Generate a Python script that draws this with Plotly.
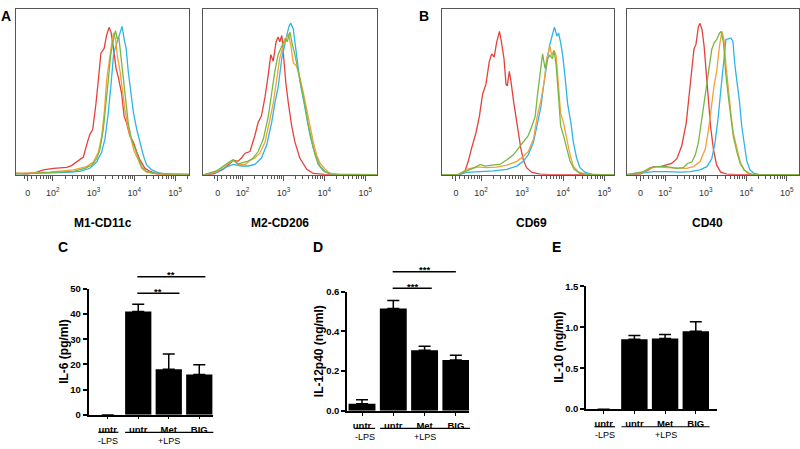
import math
import plotly.graph_objects as go

W, H = 800, 449
FONT = "Liberation Sans, Arial, sans-serif"

# ---------------- flow histograms ----------------
# x = display position in decades (10^k at k), y = % of panel height (normalised to mode)
a1_red_x = [1.10, 1.36, 1.61, 1.77, 2.02, 2.34, 2.46, 2.63, 2.75, 2.85, 2.91, 2.98, 3.06, 3.14, 3.18, 3.26, 3.32, 3.38, 3.43, 3.49,
            3.55, 3.61, 3.69, 3.75, 3.81, 3.89, 3.98, 4.06, 4.14, 4.26, 4.39, 4.55, 4.96, 5.34]
a1_red_y = [1.0, 0.4, 1.6, 2.9, 3.9, 4.5, 5.5, 8.8, 10.7, 19.5, 24.4, 27.3, 43.0, 62.5, 73.2, 76.2, 84.0, 88.9, 85.9, 76.2,
            64.5, 58.6, 48.8, 35.2, 31.3, 23.4, 19.5, 13.7, 8.8, 3.9, 2.0, 0.6, 0, 0]
a1_blue_x = [1.10, 1.93, 2.34, 2.67, 2.91, 3.08, 3.20, 3.28, 3.36, 3.43, 3.49, 3.53, 3.58, 3.63, 3.67, 3.70, 3.75, 3.80, 3.85, 3.92,
             3.98, 4.06, 4.14, 4.22, 4.30, 4.43, 4.55, 4.71, 4.96, 5.34]
a1_blue_y = [0.6, 1.0, 1.4, 2.0, 3.9, 7.8, 13.7, 21.5, 37.1, 54.7, 72.3, 76.2, 80.1, 84.0, 88.3, 89.5, 82.0, 76.2, 62.5, 46.9,
             37.1, 27.3, 19.5, 11.7, 5.9, 2.9, 1.6, 0.6, 0, 0]
a1_orange_x = [1.10, 1.93, 2.51, 2.83, 3.00, 3.12, 3.20, 3.27, 3.32, 3.39, 3.45, 3.49, 3.54, 3.58, 3.65, 3.71, 3.77, 3.84, 3.91, 3.99,
               4.10, 4.18, 4.30, 4.55, 4.96, 5.34]
a1_orange_y = [0.8, 1.6, 2.9, 4.9, 7.8, 13.7, 23.4, 39.1, 56.6, 70.3, 80.1, 85.5, 82.0, 72.3, 62.5, 50.8, 39.1, 29.3, 21.5, 14.6,
               8.8, 3.9, 1.6, 0.4, 0, 0]
a1_green_x = [1.10, 1.93, 2.51, 2.79, 2.96, 3.08, 3.16, 3.24, 3.31, 3.36, 3.42, 3.47, 3.51, 3.54, 3.58, 3.62, 3.67, 3.73, 3.80, 3.85,
              3.93, 4.02, 4.10, 4.18, 4.30, 4.47, 4.79, 5.34]
a1_green_y = [0.4, 1.2, 2.0, 3.9, 5.9, 9.8, 15.6, 27.3, 43.0, 56.6, 72.3, 80.1, 84.0, 86.9, 82.0, 83.0, 72.3, 58.6, 43.0, 31.3,
              21.5, 15.6, 9.8, 4.9, 2.0, 1.0, 0.6, 0.4]

a2_red_x = [1.04, 1.28, 1.53, 1.69, 1.77, 1.89, 1.97, 2.06, 2.18, 2.30, 2.38, 2.46, 2.55, 2.63, 2.69, 2.75, 2.82, 2.87, 2.91, 2.96,
            3.00, 3.06, 3.12, 3.20, 3.28, 3.40, 3.57, 3.73, 4.06, 5.28]
a2_red_y = [0, 0.4, 3.3, 7.2, 8.6, 8.2, 10.1, 13.0, 14.0, 23.7, 31.5, 35.4, 47.1, 60.7, 72.4, 68.5, 80.2, 83.1, 80.2, 84.0,
            70.4, 54.9, 43.2, 29.6, 19.8, 10.1, 3.3, 0.8, 0, 0]
a2_blue_x = [1.04, 1.36, 1.61, 1.77, 1.97, 2.14, 2.30, 2.46, 2.59, 2.71, 2.79, 2.87, 2.96, 3.04, 3.09, 3.14, 3.18, 3.24, 3.28, 3.34,
             3.40, 3.49, 3.57, 3.65, 3.73, 3.81, 3.89, 4.02, 4.22, 5.28]
a2_blue_y = [0, 1.4, 4.7, 6.2, 5.3, 5.3, 6.2, 10.1, 17.9, 31.5, 43.2, 52.9, 70.4, 80.2, 85.0, 89.9, 91.4, 87.9, 80.2, 66.5,
             56.8, 45.1, 33.5, 23.7, 16.0, 10.1, 5.3, 1.9, 0.4, 0]
a2_orange_x = [1.04, 1.36, 1.61, 1.77, 1.89, 2.06, 2.18, 2.30, 2.42, 2.55, 2.67, 2.75, 2.83, 2.91, 3.00, 3.06, 3.12, 3.18, 3.24, 3.32,
               3.40, 3.49, 3.57, 3.65, 3.73, 3.81, 3.89, 4.02, 4.14, 4.39, 5.28]
a2_orange_y = [0, 1.9, 6.2, 8.6, 6.2, 6.2, 8.6, 10.1, 13.0, 19.8, 33.5, 43.2, 56.8, 70.4, 78.2, 82.1, 85.0, 78.2, 67.5, 65.6,
               58.8, 49.0, 39.3, 27.6, 19.8, 12.1, 7.2, 3.3, 0.8, 0, 0]
a2_green_x = [1.04, 1.36, 1.61, 1.77, 1.89, 2.02, 2.14, 2.26, 2.38, 2.51, 2.63, 2.71, 2.79, 2.87, 2.96, 3.04, 3.09, 3.16, 3.22, 3.28,
              3.36, 3.44, 3.53, 3.61, 3.69, 3.77, 3.85, 3.98, 4.14, 4.39, 5.28]
a2_green_y = [0, 2.3, 6.6, 9.1, 6.6, 7.2, 8.2, 10.1, 14.0, 21.8, 35.4, 49.0, 62.6, 72.4, 78.2, 82.1, 80.2, 86.0, 78.2, 72.4,
              62.6, 52.9, 41.2, 29.6, 19.8, 12.1, 6.2, 2.3, 0.4, 0, 0]

b1_red_x = [1.05, 1.49, 1.61, 1.69, 1.77, 1.88, 1.96, 2.04, 2.12, 2.20, 2.26, 2.32, 2.38, 2.45, 2.50, 2.56, 2.61, 2.64, 2.69, 2.73,
            2.79, 2.85, 2.91, 2.97, 3.03, 3.11, 3.24, 3.44, 3.68, 5.24]
b1_red_y = [0, 0, 2.3, 8.1, 15.9, 25.5, 35.2, 48.7, 54.5, 68.1, 72.9, 71.0, 79.7, 86.5, 79.7, 70.0, 54.5, 53.6, 62.3, 56.5,
            44.9, 35.2, 25.5, 15.9, 9.1, 4.3, 1.4, 0.4, 0, 0]
b1_blue_x = [1.05, 1.45, 1.65, 1.98, 2.30, 2.63, 2.87, 3.03, 3.15, 3.28, 3.37, 3.46, 3.52, 3.60, 3.67, 3.72, 3.79, 3.85, 3.89, 3.94,
             3.99, 4.05, 4.11, 4.19, 4.25, 4.33, 4.41, 4.54, 4.70, 4.90, 5.24]
b1_blue_y = [0, 0, 1.4, 1.9, 2.3, 3.3, 5.2, 8.1, 12.0, 19.7, 29.4, 41.0, 52.6, 66.2, 77.8, 82.6, 89.0, 83.6, 85.5, 79.7,
             72.0, 58.4, 42.9, 31.3, 19.7, 10.1, 4.3, 1.4, 0.4, 0, 0]
b1_orange_x = [1.05, 1.45, 1.65, 1.89, 2.14, 2.38, 2.63, 2.87, 3.03, 3.15, 3.28, 3.37, 3.46, 3.54, 3.60, 3.68, 3.72, 3.78, 3.83, 3.89,
               3.94, 4.01, 4.09, 4.17, 4.25, 4.37, 4.54, 4.74, 5.24]
b1_orange_y = [0, 0, 3.3, 4.8, 4.3, 4.6, 5.8, 8.1, 11.0, 13.9, 21.7, 35.2, 44.9, 56.5, 70.0, 77.8, 72.0, 74.9, 72.0, 52.6,
               37.1, 31.3, 21.7, 12.0, 5.2, 1.9, 0.4, 0, 0]
b1_green_x = [1.05, 1.41, 1.65, 1.85, 1.98, 2.10, 2.26, 2.46, 2.63, 2.79, 2.91, 3.03, 3.15, 3.24, 3.32, 3.37, 3.44, 3.50, 3.56, 3.62,
              3.68, 3.74, 3.78, 3.83, 3.89, 3.94, 4.01, 4.09, 4.17, 4.27, 4.41, 4.66, 5.24]
b1_green_y = [0, 0, 2.3, 4.3, 6.2, 5.2, 5.8, 6.2, 9.1, 12.0, 15.9, 19.7, 23.6, 29.4, 35.2, 46.8, 62.3, 72.9, 64.2, 70.0,
              72.0, 70.0, 74.9, 66.2, 46.8, 29.4, 23.6, 15.9, 8.1, 3.3, 0.8, 0, 0]

b2_red_x = [1.06, 1.38, 1.59, 1.71, 1.88, 2.04, 2.16, 2.29, 2.41, 2.52, 2.60, 2.66, 2.71, 2.76, 2.82, 2.86, 2.91, 2.96, 3.01, 3.07,
            3.12, 3.19, 3.27, 3.37, 3.52, 3.77, 5.30]
b2_red_y = [0, 0.4, 2.9, 4.9, 4.9, 5.8, 6.8, 9.7, 17.5, 31.1, 48.5, 62.1, 75.7, 78.6, 89.3, 91.3, 87.4, 77.7, 62.1, 44.7,
            29.1, 15.5, 5.8, 1.6, 0.4, 0, 0]
b2_blue_x = [1.06, 1.47, 1.71, 2.04, 2.37, 2.62, 2.86, 3.03, 3.15, 3.23, 3.31, 3.37, 3.44, 3.50, 3.56, 3.62, 3.67, 3.72, 3.78, 3.83,
             3.89, 3.95, 4.01, 4.09, 4.18, 4.34, 5.30]
b2_blue_y = [0, 1.0, 1.9, 1.9, 1.6, 1.9, 2.9, 4.9, 9.7, 19.4, 35.0, 50.5, 68.0, 81.6, 81.9, 82.5, 80.6, 66.0, 54.4, 44.7,
             29.1, 17.5, 8.7, 2.9, 1.0, 0, 0]
b2_orange_x = [1.06, 1.47, 1.63, 1.79, 2.04, 2.29, 2.53, 2.70, 2.86, 2.99, 3.07, 3.15, 3.21, 3.27, 3.34, 3.40, 3.45, 3.50, 3.56, 3.63,
               3.68, 3.77, 3.85, 3.95, 4.05, 4.18, 5.30]
b2_orange_y = [0, 1.6, 3.9, 4.9, 4.3, 3.9, 3.9, 4.9, 7.8, 15.5, 27.2, 42.7, 54.4, 62.1, 77.7, 86.4, 81.6, 66.0, 50.5, 35.0,
               25.2, 15.5, 7.8, 2.9, 1.0, 0, 0]
b2_green_x = [1.06, 1.47, 1.63, 1.79, 2.04, 2.29, 2.45, 2.55, 2.66, 2.74, 2.82, 2.90, 2.99, 3.07, 3.15, 3.21, 3.27, 3.34, 3.38, 3.44,
              3.49, 3.56, 3.62, 3.68, 3.77, 3.85, 3.95, 4.05, 4.18, 5.30]
b2_green_y = [0, 1.9, 4.3, 4.9, 4.9, 3.9, 4.3, 6.8, 7.8, 11.7, 19.4, 33.0, 46.6, 62.1, 75.7, 79.6, 81.6, 85.4, 86.4, 79.6,
              62.1, 46.6, 33.0, 23.3, 13.6, 6.8, 2.9, 1.0, 0, 0]

hist_titles = ["M1-CD11c", "M2-CD206", "CD69", "CD40"]
flow_tick_vals = [1.39, 2, 3, 4, 5]
flow_tick_text = ["0", "10<sup>2</sup>", "10<sup>3</sup>", "10<sup>4</sup>", "10<sup>5</sup>"]

# ---------------- cytokine bars ----------------
bar_labels = ["untr", "untr", "Met", "BIG"]
il6 = [0, 41.0, 18.1, 16.0]
il6_err = [0, 2.9, 6.0, 3.9]
il12 = [0.035, 0.515, 0.305, 0.256]
il12_err = [0.021, 0.04, 0.02, 0.023]
il10 = [0, 0.852, 0.864, 0.952]
il10_err = [0, 0.048, 0.048, 0.115]

COL = {"red": "#e6403d", "blue": "#2eb4e6", "orange": "#f4a03a", "green": "#77b743"}

fig = go.Figure()

hist = [
    ((16, 189), (1.10, 5.34), [(a1_red_x, a1_red_y, "red"), (a1_blue_x, a1_blue_y, "blue"),
                                (a1_orange_x, a1_orange_y, "orange"), (a1_green_x, a1_green_y, "green")], 103),
    ((203, 377), (1.03, 5.29), [(a2_red_x, a2_red_y, "red"), (a2_blue_x, a2_blue_y, "blue"),
                                 (a2_orange_x, a2_orange_y, "orange"), (a2_green_x, a2_green_y, "green")], 280),
    ((442, 614), (1.05, 5.24), [(b1_red_x, b1_red_y, "red"), (b1_blue_x, b1_blue_y, "blue"),
                                 (b1_orange_x, b1_orange_y, "orange"), (b1_green_x, b1_green_y, "green")], 531),
    ((627, 799), (1.06, 5.30), [(b2_red_x, b2_red_y, "red"), (b2_blue_x, b2_blue_y, "blue"),
                                 (b2_orange_x, b2_orange_y, "orange"), (b2_green_x, b2_green_y, "green")], 707),
]

minor_vals = [k + math.log10(m) for k in (1, 2, 3, 4, 5) for m in range(2, 10)]

layout = dict(width=W, height=H, margin=dict(l=0, r=0, t=0, b=0), showlegend=False,
              plot_bgcolor="white", paper_bgcolor="white", font=dict(family=FONT, color="black"))
annotations = []
shapes = []

for i, (box, xr, curves, title_x) in enumerate(hist):
    n = i + 1
    sx = "" if n == 1 else str(n)
    for xs, ys, c in curves:
        fig.add_trace(go.Scatter(x=xs, y=ys, mode="lines", line=dict(color=COL[c], width=1.3),
                                 xaxis="x" + sx, yaxis="y" + sx, hoverinfo="skip"))
    layout["xaxis" + sx] = dict(domain=[box[0] / W, box[1] / W], range=list(xr), anchor="y" + sx,
                                showline=True, mirror=True, linecolor="#555", linewidth=1,
                                showgrid=False, zeroline=False, ticks="outside", ticklen=5, tickcolor="#555",
                                tickmode="array", tickvals=flow_tick_vals, ticktext=flow_tick_text,
                                tickfont=dict(size=9, color="#333"), ticklabelstandoff=4,
                                minor=dict(tickvals=minor_vals, ticks="outside", ticklen=3, tickcolor="#555"))
    layout["yaxis" + sx] = dict(domain=[1 - 173 / H, 1 - 3 / H], range=[0, 100], anchor="x" + sx,
                                showline=True, mirror=True, linecolor="#555", linewidth=1,
                                showgrid=False, zeroline=False, showticklabels=False, ticks="")
    annotations.append(dict(text="<b>%s</b>" % hist_titles[i], x=title_x / W, y=1 - 222 / H, xref="paper", yref="paper",
                            showarrow=False, font=dict(size=12), xanchor="center", yanchor="middle"))

bar_panels = [
    dict(n=5, box=(88.5, 213), yb=(419, 290), xr=(-0.63, 3.45), vals=il6, errs=il6_err, ymax=50, dtick=10, fmt="d",
         title="IL-6 (pg/ml)", title_x=64, minus=(-0.31, 0.35), plus=(0.57, 3.46),
         sig=[(0.97, 2.35, 48.3, "**"), (0.97, 3.2, 54.8, "**")]),
    dict(n=6, box=(347, 469), yb=(415, 292.7), xr=(-0.48, 3.42), vals=il12, errs=il12_err, ymax=0.6, dtick=0.2, fmt=".1f",
         title="IL-12p40 (ng/ml)", title_x=319, minus=(-0.21, 0.42), plus=(0.58, 3.45),
         sig=[(0.98, 2.23, 0.617, "***"), (0.98, 3.0, 0.70, "***")]),
    dict(n=7, box=(586, 717), yb=(413.3, 287.3), xr=(-0.575, 3.69), vals=il10, errs=il10_err, ymax=1.5, dtick=0.5, fmt=".1f",
         title="IL-10 (ng/ml)", title_x=559, minus=(-0.30, 0.37), plus=(0.58, 3.45), sig=[]),
]


def px_x(p, v):
    l, r = p["box"]
    r0, r1 = p["xr"]
    return (l + (v - r0) / (r1 - r0) * (r - l)) / W


def px_y(p, v):
    b, t = p["yb"]
    return 1 - (b + v / p["ymax"] * (t - b)) / H


for p in bar_panels:
    sx = str(p["n"])
    fig.add_trace(go.Bar(x=[0, 1, 2, 3], y=p["vals"], width=0.86, marker=dict(color="black", line=dict(width=0)),
                         error_y=dict(type="data", array=p["errs"], arrayminus=[0, 0, 0, 0], symmetric=False,
                                      color="black", thickness=1.5, width=6),
                         xaxis="x" + sx, yaxis="y" + sx, hoverinfo="skip"))
    b, t = p["yb"]
    layout["xaxis" + sx] = dict(domain=[p["box"][0] / W, p["box"][1] / W], range=list(p["xr"]), anchor="y" + sx,
                                showline=True, linecolor="black", linewidth=1.5, showgrid=False, zeroline=False,
                                ticks="outside", ticklen=3, tickwidth=1.2, tickcolor="black",
                                tickmode="array", tickvals=[0, 1, 2, 3], ticktext=bar_labels,
                                tickfont=dict(size=9.5, weight="bold"), ticklabelstandoff=2)
    layout["yaxis" + sx] = dict(domain=[1 - b / H, 1 - t / H], range=[0, p["ymax"]], anchor="x" + sx,
                                showline=True, linecolor="black", linewidth=1.5, showgrid=False, zeroline=False,
                                ticks="outside", ticklen=4, tickwidth=1.5, tickcolor="black",
                                tick0=0, dtick=p["dtick"], tickformat=p["fmt"], tickfont=dict(size=9.5, weight="bold"))
    annotations.append(dict(text="<b>%s</b>" % p["title"], x=p["title_x"] / W, y=1 - (b + t) / 2 / H,
                            xref="paper", yref="paper", textangle=-90, showarrow=False, font=dict(size=12),
                            xanchor="center", yanchor="middle"))
    # -LPS / +LPS group lines under the axis
    for (g0, g1), lab in ((p["minus"], "-LPS"), (p["plus"], "+LPS")):
        gy = 1 - (b + 18) / H
        shapes.append(dict(type="line", xref="paper", yref="paper", x0=px_x(p, g0), x1=px_x(p, g1), y0=gy, y1=gy,
                           line=dict(color="black", width=1.2)))
        annotations.append(dict(text=lab, x=px_x(p, (g0 + g1) / 2), y=1 - (b + 26.5) / H, xref="paper", yref="paper",
                                showarrow=False, font=dict(size=9), xanchor="center", yanchor="middle"))
    # significance brackets
    for s0, s1, sy, stars in p["sig"]:
        shapes.append(dict(type="line", xref="paper", yref="paper", x0=px_x(p, s0), x1=px_x(p, s1),
                           y0=px_y(p, sy), y1=px_y(p, sy), line=dict(color="black", width=1.5)))
        annotations.append(dict(text="<b>%s</b>" % stars, x=px_x(p, (s0 + s1) / 2), y=px_y(p, sy) + 2 / H,
                                xref="paper", yref="paper", showarrow=False, font=dict(size=9.5),
                                xanchor="center", yanchor="middle"))

for letter, lx, ly in (("A", 6, 10), ("B", 424, 10), ("C", 63, 247), ("D", 318, 247), ("E", 556, 247)):
    annotations.append(dict(text="<b>%s</b>" % letter, x=lx / W, y=1 - ly / H, xref="paper", yref="paper",
                            showarrow=False, font=dict(size=14), xanchor="center", yanchor="middle"))

layout["annotations"] = annotations
layout["shapes"] = shapes
fig.update_layout(**layout)

fig.write_html("out.html", config={"displayModeBar": False},
               post_script="document.body.style.margin='0';")
